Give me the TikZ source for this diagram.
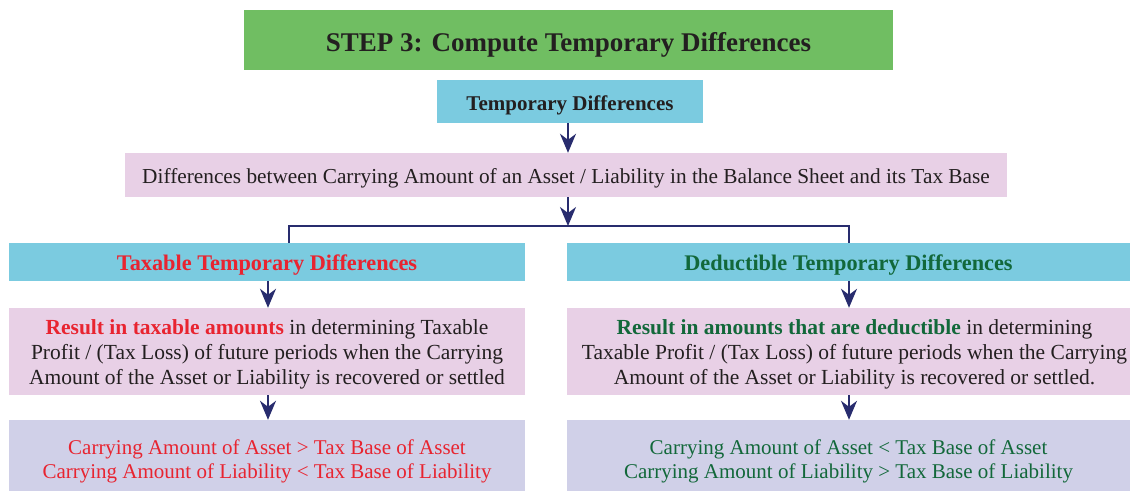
\documentclass[tikz,border=0pt]{standalone}
\usepackage{fontspec}
\setmainfont{Liberation Serif}
\usepackage{xcolor}
\usetikzlibrary{positioning, arrows.meta}
\definecolor{StepGreen}{RGB}{112,190,98}
\definecolor{BoxCyan}{RGB}{123,203,224}
\definecolor{BoxPink}{RGB}{232,208,230}
\definecolor{BoxLavender}{RGB}{208,208,232}
\definecolor{ArrowNavy}{RGB}{40,44,110}
\definecolor{TextRed}{RGB}{232,36,48}
\definecolor{TextGreen}{RGB}{18,104,58}
\definecolor{TextDark}{RGB}{35,31,32}
% lines of a box, first baseline placed by the optional depth
\newcommand{\boxlines}[2]{\raisebox{0pt}[0pt][#1]{\begin{tabular}[t]{@{}c@{}}#2\end{tabular}}}
\tikzset{
  box/.style={inner sep=0pt, align=center, text=TextDark, font=\fontsize{21.5}{25}\selectfont},
  headbox/.style={box, fill=BoxCyan, minimum height=38pt, text height=16pt, text depth=0pt,
    font=\fontsize{22.3}{24}\selectfont\bfseries},
  flow/.style={-{Stealth[length=19pt,width=16pt,inset=6pt]}, line width=2pt, ArrowNavy},
  branch/.style={line width=2.3pt, ArrowNavy}
}
\begin{document}
\begin{tikzpicture}[x=1pt, y=-1pt]
        \useasboundingbox (0,0) rectangle (1134,491);
        % top of the chart
        \node[box, fill=StepGreen, minimum width=649pt, minimum height=60pt, text height=22pt, text depth=0pt,
          font=\fontsize{27}{30}\selectfont\bfseries] (title) at (568.5,40)
          {STEP 3: Compute Temporary Differences};
        \node[headbox, minimum width=266pt, minimum height=43pt, text height=17pt,
          font=\fontsize{21}{24}\selectfont\bfseries] (tempdiff) at (570,101.5)
          {Temporary Differences};
        \node[box, fill=BoxPink, minimum width=882pt, minimum height=44pt, text height=16pt, text depth=0pt,
          font=\fontsize{21.3}{24}\selectfont] (diffdef) at (566,175)
          {Differences between Carrying Amount of an Asset / Liability in the Balance Sheet and its Tax Base};
        \draw[flow] (tempdiff.south -| 568,0) -- (diffdef.north -| 568,0);
        % two branches
        \node[headbox, minimum width=516pt, text=TextRed] (taxable) at (267,262)
          {Taxable Temporary Differences};
        \node[headbox, minimum width=563pt, text=TextGreen] (deductible) at (848.5,262)
          {Deductible Temporary Differences};
        \coordinate (split) at (568,226);
        \coordinate (splitL) at (289,226);
        \coordinate (splitR) at (849,226);
        \draw[flow] (diffdef.south -| split) -- (split);
        \draw[branch] (taxable.north -| splitL) |- (splitR) -- (deductible.north -| splitR);
        \node[box, fill=BoxPink, minimum width=516pt, minimum height=87pt] (taxres) at (267,351.5)
          {\boxlines{35pt}{\textcolor{TextRed}{\bfseries Result in taxable amounts} in determining Taxable\\
           Profit / (Tax Loss) of future periods when the Carrying\\
           Amount of the Asset or Liability is recovered or settled}};
        \node[box, fill=BoxPink, minimum width=563pt, minimum height=87pt] (dedres) at (848.5,351.5)
          {\hspace*{12pt}\boxlines{35pt}{\textcolor{TextGreen}{\bfseries Result in amounts that are deductible} in determining\\
           Taxable Profit / (Tax Loss) of future periods when the Carrying\\
           Amount of the Asset or Liability is recovered or settled.}};
        \node[box, fill=BoxLavender, minimum width=516pt, minimum height=71pt, text=TextRed,
          font=\fontsize{21}{24}\selectfont] (taxcond) at (267,455.5)
          {\boxlines{3pt}{Carrying Amount of Asset > Tax Base of Asset\\
           Carrying Amount of Liability < Tax Base of Liability}};
        \node[box, fill=BoxLavender, minimum width=563pt, minimum height=71pt, text=TextGreen,
          font=\fontsize{21}{24}\selectfont] (dedcond) at (848.5,455.5)
          {\boxlines{3pt}{Carrying Amount of Asset < Tax Base of Asset\\
           Carrying Amount of Liability > Tax Base of Liability}};
        \draw[flow] (taxable.south -| 268,0) -- (taxres.north -| 268,0);
        \draw[flow] (taxres.south -| 268,0) -- (taxcond.north -| 268,0);
        \draw[flow] (deductible.south -| 849,0) -- (dedres.north -| 849,0);
        \draw[flow] (dedres.south -| 849,0) -- (dedcond.north -| 849,0);
      \end{tikzpicture}
\end{document}
